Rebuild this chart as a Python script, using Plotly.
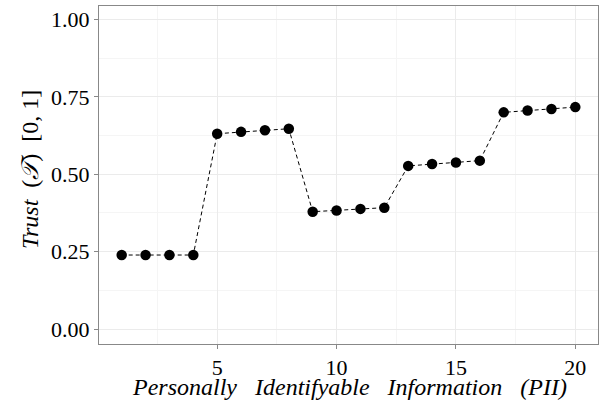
import plotly.graph_objects as go

pii = list(range(1, 21))
trust = [0.239, 0.239, 0.239, 0.239,
         0.631, 0.637, 0.642, 0.647,
         0.379, 0.383, 0.388, 0.392,
         0.527, 0.533, 0.538, 0.544,
         0.700, 0.706, 0.711, 0.717]
x_ticks = [5, 10, 15, 20]
y_ticks = [0.0, 0.25, 0.5, 0.75, 1.0]
y_tick_labels = ["0.00", "0.25", "0.50", "0.75", "1.00"]
sp = "&nbsp;&nbsp;&nbsp;"
x_title = "<i>Personally" + sp + "Identifyable" + sp + "Information" + sp + "(PII)</i>"
y_title = "<i>Trust</i>&nbsp;&nbsp;(<i>𝒯</i>)&nbsp;&nbsp;[0,&nbsp;1]"

font_family = "Liberation Serif, DejaVu Serif, serif"

fig = go.Figure(go.Scatter(
    x=pii, y=trust, mode="lines+markers",
    line=dict(color="black", width=1, dash="4px,3px"),
    marker=dict(color="black", size=10.5),
    showlegend=False,
))

grid_major = "#ebebeb"
grid_minor = "#f5f5f5"
W, H = 607, 403
# panel in pixels: x 99..598, y 6..344
L, R, T, B = 99, W - 598, 6, H - 344
# y mapping: 0 at pixel 329, 1 at pixel 19.5
ppu = 329 - 19.5
y_lo = -(344 - 329) / ppu
y_hi = 1 + (19.5 - T) / ppu

fig.update_layout(
    width=W, height=H,
    margin=dict(l=L, r=R, t=T, b=B, autoexpand=False),
    plot_bgcolor="white", paper_bgcolor="white",
    font=dict(family=font_family, size=22, color="black"),
)
fig.update_xaxes(
    range=[0.05, 20.95], tickvals=x_ticks, automargin=False,
    showgrid=True, gridcolor=grid_major, gridwidth=1,
    minor=dict(tickvals=[2.5, 7.5, 12.5, 17.5], showgrid=True, gridcolor=grid_minor, gridwidth=1),
    ticks="outside", ticklen=4, tickcolor="#888888",
    showline=True, linecolor="#888888", linewidth=1, mirror=True,
    zeroline=False, tickfont=dict(size=22), ticklabeloverflow="allow",
)
fig.update_yaxes(
    range=[y_lo, y_hi], tickvals=y_ticks, ticktext=y_tick_labels, automargin=False,
    showgrid=True, gridcolor=grid_major, gridwidth=1,
    minor=dict(tickvals=[0.125, 0.375, 0.625, 0.875], showgrid=True, gridcolor=grid_minor, gridwidth=1),
    ticks="outside", ticklen=4, tickcolor="#888888",
    showline=True, linecolor="#888888", linewidth=1, mirror=True,
    zeroline=False, tickfont=dict(size=22), ticklabeloverflow="allow",
)

pw, ph = W - L - R, H - T - B
def px_x(px):
    return (px - L) / pw
def px_y(py):
    return (H - B - py) / ph

fig.add_annotation(text=x_title, xref="paper", yref="paper",
                   x=px_x(349), y=px_y(387),
                   xanchor="center", yanchor="middle", showarrow=False,
                   font=dict(size=24))
fig.add_annotation(text=y_title, xref="paper", yref="paper",
                   x=px_x(30), y=px_y(170),
                   xanchor="center", yanchor="middle", showarrow=False,
                   textangle=-90, font=dict(size=24))

fig.write_html("out.html",
               config={"displayModeBar": False},
               post_script="document.body.style.margin='0';document.body.style.padding='0';")
